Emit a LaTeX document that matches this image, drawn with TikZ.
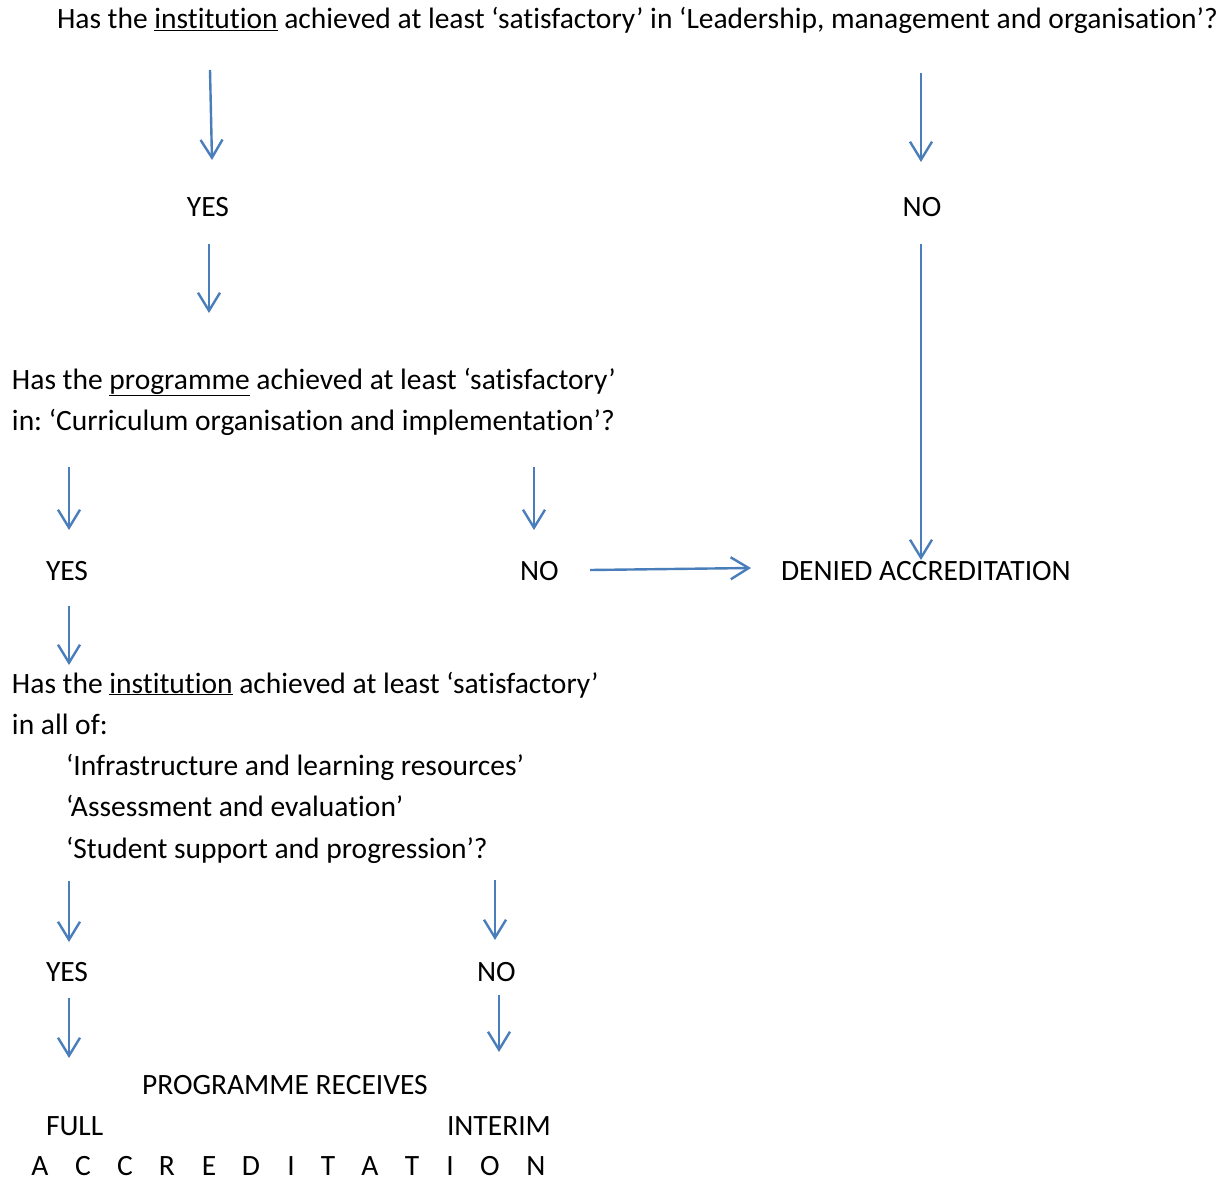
\documentclass[tikz,border=0pt]{standalone}
\usepackage{fontspec}
\setmainfont[Ligatures=NoCommon]{Carlito}
\usetikzlibrary{arrows.meta}
\definecolor{arrowblue}{HTML}{4A7EBB}
\begin{document}
\frenchspacing
\begin{tikzpicture}[x=1pt,y=-1pt,
  txt/.style={anchor=base west,inner sep=0pt,outer sep=0pt,font=\fontsize{29.5}{41}\selectfont},
  ctxt/.style={anchor=base,inner sep=0pt,outer sep=0pt,font=\fontsize{29.5}{41}\selectfont},
  flow/.style={draw=arrowblue,line width=2.4pt,-{Straight Barb[length=18pt,width=22pt,line width=2.4pt]}}]
\useasboundingbox[fill=white] (0,0) rectangle (1223,1180);
% texts
\node[txt] (q1) at (57,29) {Has the \underline{institution} achieved at least ‘satisfactory’ in ‘Leadership, management and organisation’?};
\node[ctxt] (yes1) at (208,216) {YES};
\node[ctxt] (no1) at (922,216) {NO};
\node[txt] (q2a) at (12,389) {Has the \underline{programme} achieved at least ‘satisfactory’};
\node[txt] (q2b) at (12,430) {in: ‘Curriculum organisation and implementation’?};
\node[txt] (yes2) at (46,580) {YES};
\node[txt] (no2) at (520,580) {NO};
\node[txt] (denied) at (781,580) {DENIED ACCREDITATION};
\node[txt] (q3a) at (12,693) {Has the \underline{institution} achieved at least ‘satisfactory’};
\node[txt] (q3b) at (12,734) {in all of:};
\node[txt] (q3c) at (66,775) {‘Infrastructure and learning resources’};
\node[txt] (q3d) at (66,816) {‘Assessment and evaluation’};
\node[txt] (q3e) at (66,858) {‘Student support and progression’?};
\node[txt] (yes3) at (46,981) {YES};
\node[txt] (no3) at (477,981) {NO};
\node[txt] (receives) at (142,1094) {PROGRAMME RECEIVES};
\node[txt] (full) at (46,1135) {FULL};
\node[txt] (interim) at (447,1135) {INTERIM};
\foreach \l/\x [count=\i] in {A/40,C/83,C/125,R/167,E/209,D/251,I/291,T/328,A/370,T/412,I/450,O/490,N/536}
  \node[ctxt] (acc\i) at (\x,1175) {\l};
% connector end points
\coordinate (a1s) at (210,70);   \coordinate (a1e) at (212,160);
\coordinate (a2s) at (921,73);   \coordinate (a2e) at (921,162);
\coordinate (a3s) at (209,244);  \coordinate (a3e) at (209,313);
\coordinate (a4s) at (921,244);  \coordinate (a4e) at (921,560);
\coordinate (a5s) at (69,467);   \coordinate (a5e) at (69,530);
\coordinate (a6s) at (534,467);  \coordinate (a6e) at (534,530);
\coordinate (a7s) at (590,570);  \coordinate (a7e) at (751,568);
\coordinate (a8s) at (69,606);   \coordinate (a8e) at (69,665);
\coordinate (a9s) at (69,881);   \coordinate (a9e) at (69,942);
\coordinate (a10s) at (495,880); \coordinate (a10e) at (495,940);
\coordinate (a11s) at (69,998);  \coordinate (a11e) at (69,1058);
\coordinate (a12s) at (499,995); \coordinate (a12e) at (499,1052);
\foreach \i in {1,...,12}
  \draw[flow] (a\i s) -- (a\i e);
\end{tikzpicture}
\end{document}
